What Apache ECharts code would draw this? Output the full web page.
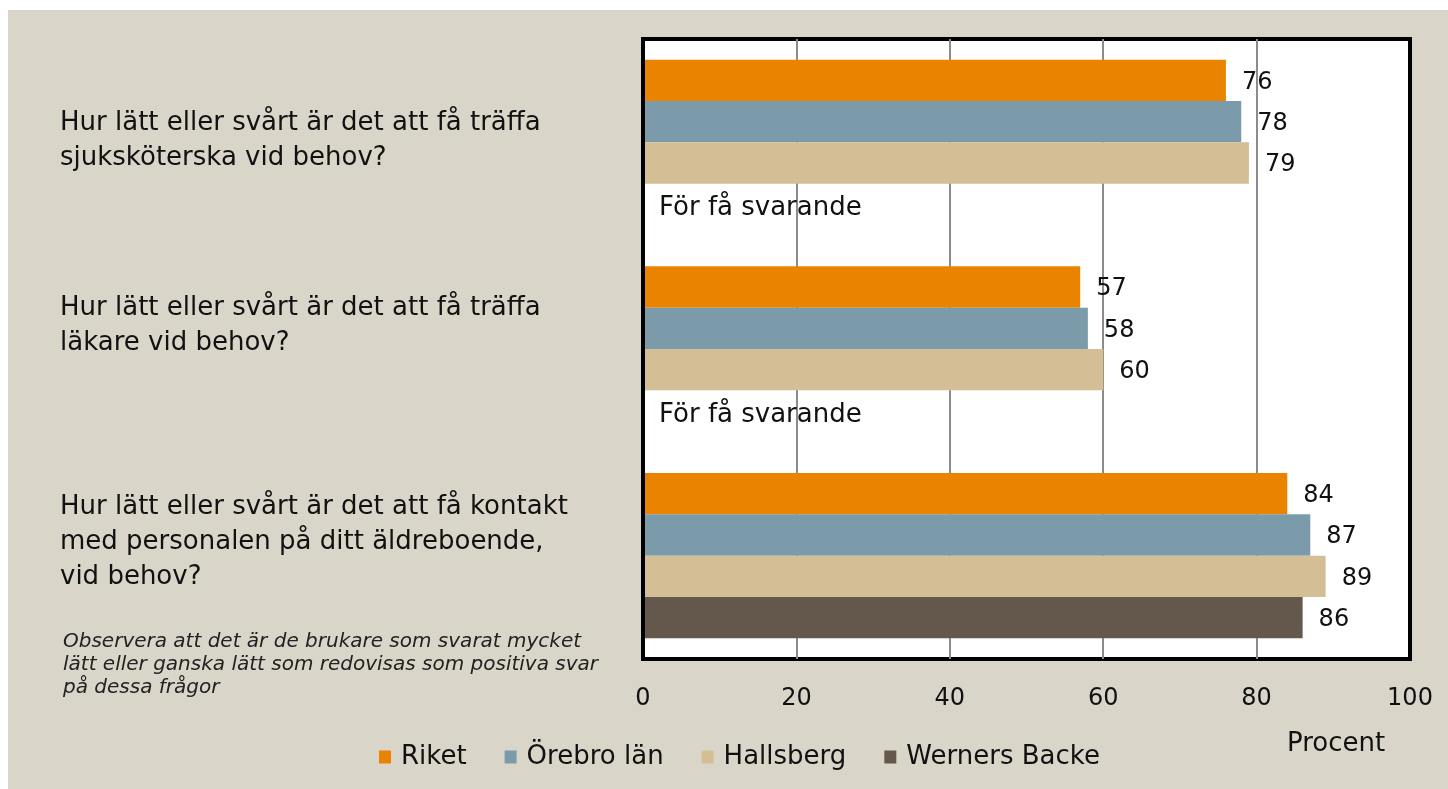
<!DOCTYPE html>
<html><head><meta charset="utf-8">
<script src="https://cdn.jsdelivr.net/npm/echarts@6/dist/echarts.min.js"></script>
<style>html,body{margin:0;padding:0;background:#fff}#c{position:absolute;left:8px;top:10px;width:1440px;height:779px;background:#D9D6C9}</style>
</head><body><div id="c"></div>
<script>
const categories = [
  "Hur lätt eller svårt är det att få träffa\nsjuksköterska vid behov?",
  "Hur lätt eller svårt är det att få träffa\nläkare vid behov?",
  "Hur lätt eller svårt är det att få kontakt\nmed personalen på ditt äldreboende,\nvid behov?"
];
const seriesNames = ["Riket", "Örebro län", "Hallsberg", "Werners Backe"];
const riket = [76, 57, 84];
const orebro = [78, 58, 87];
const hallsberg = [79, 60, 89];
const wernersBacke = [null, null, 86];
const missingText = "För få svarande";
const xTicks = [0, 20, 40, 60, 80, 100];
const footnote = "Observera att det är de brukare som svarat mycket\nlätt eller ganska lätt som redovisas som positiva svar\npå dessa frågor";
const axisName = "Procent";

const colors = ["#E98300", "#7B9BAB", "#D3BE96", "#64574B"];
const FONT = "DejaVu Sans";
const TXT = 26;
const NUM = 24;
const chart = echarts.init(document.getElementById('c'));
const labelStyles = ['a', 'b', 'c'];

function mk(name, data, i) {
  return {
    name, type: 'bar', barGap: '0%', barCategoryGap: '20%',
    itemStyle: { color: colors[i] },
    label: { show: true, position: 'right', distance: 16, offset: [0, 2], color: '#111', fontSize: NUM, fontFamily: FONT },
    data: data.map(v => v == null
      ? { value: 0, label: { show: true, formatter: missingText, distance: 16, offset: [0, 4], fontSize: TXT } }
      : v)
  };
}

chart.setOption({
  animation: false,
  textStyle: { fontFamily: FONT },
  title: [
    { text: footnote, left: 55, top: 620, padding: 0,
      textStyle: { fontSize: 20, fontStyle: 'italic', fontWeight: 'normal', color: '#222', lineHeight: 23, fontFamily: FONT } },
    { text: axisName, left: 1279, top: 721, padding: 0,
      textStyle: { fontSize: TXT, fontWeight: 'normal', color: '#111', fontFamily: FONT } }
  ],
  legend: {
    data: seriesNames, left: 366, top: 729, itemWidth: 12, itemHeight: 13, itemGap: 38,
    icon: 'rect',
    textStyle: { fontSize: TXT, color: '#111', fontFamily: FONT, padding: [0, 0, 0, 5] }
  },
  grid: { left: 635, right: 38, top: 29, bottom: 130, show: true, backgroundColor: '#fff', borderColor: '#000', borderWidth: 4 },
  xAxis: {
    type: 'value', min: 0, max: 100, interval: 20,
    axisLine: { show: false }, axisTick: { show: false },
    splitLine: { show: true, showMinLine: false, showMaxLine: false, lineStyle: { color: '#8c8c8c', width: 2 } },
    axisLabel: { margin: 28, fontSize: NUM, color: '#111', fontFamily: FONT,
      formatter: v => xTicks.includes(v) ? String(v) : '' }
  },
  yAxis: {
    type: 'category', inverse: true, data: categories, z: 5,
    axisLine: { show: true, lineStyle: { color: '#000', width: 4 } }, axisTick: { show: false },
    axisLabel: {
      align: 'left', margin: 583, color: '#111', fontSize: TXT, fontFamily: FONT, lineHeight: 35,
      formatter: (v, i) => v.split('\n').map(l => '{' + labelStyles[i] + '|' + l + '}').join('\n'),
      rich: {
        a: { fontSize: TXT, lineHeight: 35, padding: [0, 0, 4, 0], color: '#111' },
        b: { fontSize: TXT, lineHeight: 35, padding: [0, 0, 46, 0], color: '#111' },
        c: { fontSize: TXT, lineHeight: 35, padding: [0, 0, 27, 0], color: '#111' }
      }
    }
  },
  series: [
    mk(seriesNames[0], riket, 0),
    mk(seriesNames[1], orebro, 1),
    mk(seriesNames[2], hallsberg, 2),
    mk(seriesNames[3], wernersBacke, 3)
  ]
});
</script></body></html>
